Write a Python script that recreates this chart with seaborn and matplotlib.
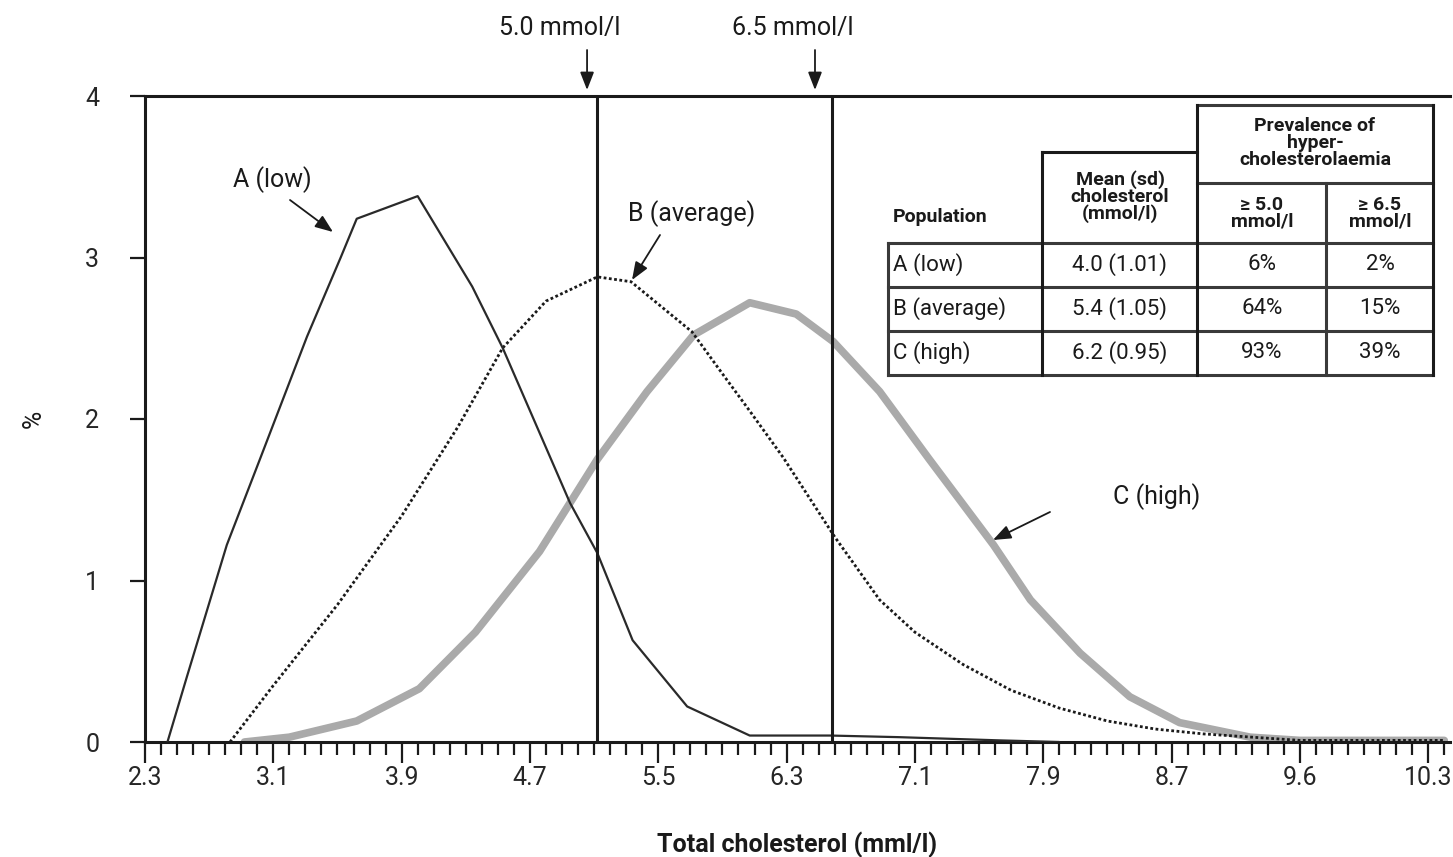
import matplotlib
matplotlib.use("Agg")
import matplotlib.pyplot as plt
import seaborn as sns
import numpy as np
import pandas as pd

# ---------------- data ----------------
a_x = [2.44, 2.56, 2.81, 3.02, 3.31, 3.52, 3.62, 4.00, 4.34, 4.53, 4.95, 5.12, 5.34, 5.68, 6.07, 6.57, 7.00, 7.63, 8.00]
a_y = [0.00, 0.40, 1.22, 1.76, 2.51, 3.00, 3.24, 3.38, 2.82, 2.44, 1.48, 1.17, 0.63, 0.22, 0.04, 0.04, 0.03, 0.01, 0.00]

b_x = [2.83, 3.10, 3.50, 3.90, 4.25, 4.53, 4.80, 5.12, 5.33, 5.71, 5.90, 6.07, 6.28, 6.60, 6.88, 7.10, 7.40, 7.70, 8.00, 8.30, 8.60, 8.90, 9.20, 9.50, 10.40]
b_y = [0.00, 0.35, 0.85, 1.40, 1.95, 2.44, 2.73, 2.88, 2.85, 2.54, 2.28, 2.05, 1.76, 1.27, 0.88, 0.68, 0.48, 0.32, 0.21, 0.13, 0.08, 0.05, 0.03, 0.01, 0.01]

c_x = [2.92, 3.20, 3.62, 4.01, 4.36, 4.76, 5.12, 5.43, 5.72, 6.07, 6.36, 6.59, 6.88, 7.19, 7.59, 7.82, 8.13, 8.44, 8.75, 9.19, 9.50, 10.40]
c_y = [0.00, 0.03, 0.13, 0.33, 0.68, 1.18, 1.75, 2.17, 2.52, 2.72, 2.65, 2.48, 2.17, 1.75, 1.22, 0.88, 0.55, 0.28, 0.12, 0.03, 0.01, 0.01]

x_tick_pos = [2.3, 3.1, 3.9, 4.7, 5.5, 6.3, 7.1, 7.9, 8.7, 9.5, 10.3]
x_tick_labels = ["2.3", "3.1", "3.9", "4.7", "5.5", "6.3", "7.1", "7.9", "8.7", "9.6", "10.3"]
y_ticks = [0, 1, 2, 3, 4]
ref_lines = [5.12, 6.58]
ref_labels = ["5.0 mmol/l", "6.5 mmol/l"]
ref_arrow_x = [5.056, 6.477]

table_header = ["Population", "Mean (sd)\ncholesterol\n(mmol/l)", "Prevalence of\nhyper-\ncholesterolaemia",
                "\u2265 5.0\nmmol/l", "\u2265 6.5\nmmol/l"]
table_pop = ["A (low)", "B (average)", "C (high)"]
table_mean = ["4.0 (1.01)", "5.4 (1.05)", "6.2 (0.95)"]
table_p50 = ["6%", "64%", "93%"]
table_p65 = ["2%", "15%", "39%"]

# ---------------- style ----------------
sns.set_theme(style="white")
plt.rcParams["font.family"] = ["Roboto", "DejaVu Sans"]

W, H = 1453, 857
fig = plt.figure(figsize=(W / 100, H / 100), dpi=100)
L, R, T, B = 145, 1450, 96, 742
ax = fig.add_axes([L / W, (H - B) / H, (R - L) / W, (B - T) / H])

df_a = pd.DataFrame({"x": a_x, "y": a_y})
df_b = pd.DataFrame({"x": b_x, "y": b_y})
df_c = pd.DataFrame({"x": c_x, "y": c_y})

sns.lineplot(data=df_c, x="x", y="y", ax=ax, color="#aaaaaa", lw=5.5, sort=False, zorder=2)
sns.lineplot(data=df_b, x="x", y="y", ax=ax, color="#1a1a1a", lw=2.0, ls=(0, (1.0, 0.9)), sort=False, zorder=3)
sns.lineplot(data=df_a, x="x", y="y", ax=ax, color="#2a2a2a", lw=1.6, sort=False, zorder=3)

for xv in ref_lines:
    ax.axvline(xv, color="#1a1a1a", lw=2.2, zorder=4)

ax.set_xlim(2.3, 2.3 + (R - L) / 160.4)
ax.set_ylim(0, 4)

# spines
for s in ["left", "bottom", "top"]:
    ax.spines[s].set_visible(True)
    ax.spines[s].set_color("#1a1a1a")
    ax.spines[s].set_linewidth(2.2)
ax.spines["right"].set_visible(False)

ax.set_xticks(x_tick_pos)
ax.set_xticklabels(x_tick_labels)
ax.set_xticks(np.round(np.arange(2.3, 10.45, 0.1), 2), minor=True)
ax.set_yticks(y_ticks)
ax.set_yticklabels([str(v) for v in y_ticks])
ax.tick_params(axis="x", which="major", direction="out", length=15, width=1.6, color="#1a1a1a",
               labelsize=18, pad=2, bottom=True)
ax.tick_params(axis="x", which="minor", direction="out", length=9, width=1.6, color="#1a1a1a", bottom=True)
ax.tick_params(axis="y", which="major", direction="out", length=11, width=1.6, color="#1a1a1a",
               labelsize=18, pad=22, left=True)
ax.set_xlabel("Total cholesterol (mml/l)", fontsize=18, fontweight="bold", labelpad=30, color="#1a1a1a")
ax.set_ylabel("%", fontsize=18, labelpad=28, color="#1a1a1a")

# px -> data helpers (layout only)
def dx(px):
    return 2.3 + (px - L) / 160.4

def dy(py):
    return (B - py) / ((B - T) / 4)

arrow_kw = dict(arrowstyle="-|>,head_length=0.9,head_width=0.35", color="#1a1a1a", lw=1.3, shrinkA=0, shrinkB=0)

# top reference annotations
for lab, xa, xt in zip(ref_labels, ref_arrow_x, [dx(560), dx(793)]):
    ax.text(xt, dy(28), lab, ha="center", va="center", fontsize=18, color="#1a1a1a", clip_on=False)
    ax.annotate("", xy=(xa, dy(90)), xytext=(xa, dy(50)), arrowprops=arrow_kw, annotation_clip=False)

# series labels
ax.text(dx(272), dy(180), "A (low)", ha="center", va="center", fontsize=18, color="#1a1a1a")
ax.annotate("", xy=(dx(333), dy(232)), xytext=(dx(290), dy(200)), arrowprops=arrow_kw)
ax.text(dx(692), dy(214), "B (average)", ha="center", va="center", fontsize=18, color="#1a1a1a")
ax.annotate("", xy=(dx(632), dy(280)), xytext=(dx(660), dy(235)), arrowprops=arrow_kw)
ax.text(dx(1157), dy(497), "C (high)", ha="center", va="center", fontsize=18, color="#1a1a1a")
ax.annotate("", xy=(dx(993), dy(540)), xytext=(dx(1050), dy(512)), arrowprops=arrow_kw)

# ---------------- table (drawn in axes fraction) ----------------
def axx(px):
    return (px - L) / (R - L)

def axy(py):
    return (B - py) / (B - T)

tr = ax.transAxes
cx = [888, 1042, 1197, 1326, 1433]
ry = [243, 287, 331, 375]

def hline(x0, x1, y, c="#333333", lw=2.2):
    ax.plot([axx(x0), axx(x1)], [axy(y), axy(y)], transform=tr, color=c, lw=lw, solid_capstyle="projecting", zorder=6)

def vline(x, y0, y1, c="#1a1a1a", lw=2.2):
    ax.plot([axx(x), axx(x)], [axy(y0), axy(y1)], transform=tr, color=c, lw=lw, solid_capstyle="projecting", zorder=6)

# white background for table
ax.add_patch(plt.Rectangle((axx(cx[0]), axy(ry[-1])), axx(cx[-1]) - axx(cx[0]), axy(ry[0]) - axy(ry[-1]),
                           transform=tr, facecolor="white", edgecolor="none", zorder=5))
ax.add_patch(plt.Rectangle((axx(cx[1]), axy(243)), axx(cx[-1]) - axx(cx[1]), axy(152) - axy(243),
                           transform=tr, facecolor="white", edgecolor="none", zorder=5))
ax.add_patch(plt.Rectangle((axx(cx[2]), axy(152)), axx(cx[-1]) - axx(cx[2]), axy(105) - axy(152),
                           transform=tr, facecolor="white", edgecolor="none", zorder=5))

for y in ry:
    hline(cx[0], cx[-1], y, c="#3a3a3a")
hline(cx[1], cx[2], 152, c="#1a1a1a")
hline(cx[2], cx[4], 105, c="#3a3a3a")
hline(cx[2], cx[4], 183, c="#3a3a3a")
vline(cx[0], ry[0], ry[-1], c="#3a3a3a")
vline(cx[1], 152, ry[-1])
vline(cx[2], 105, ry[-1])
vline(cx[3], 183, ry[-1], c="#3a3a3a")
vline(cx[4], 105, ry[-1])

hkw = dict(transform=tr, ha="center", va="center", fontsize=14, fontweight="bold", color="#1a1a1a",
           linespacing=0.9, zorder=7)
ax.text(axx(893), axy(217), table_header[0], **{**hkw, "ha": "left"})
ax.text(axx(1120), axy(197), table_header[1], **hkw)
ax.text(axx(1315), axy(143), table_header[2], **hkw)
ax.text(axx(1262), axy(213), table_header[3], **hkw)
ax.text(axx(1380), axy(213), table_header[4], **hkw)

ckw = dict(transform=tr, va="center", fontsize=16, color="#1a1a1a", zorder=7)
for i in range(3):
    ymid = axy((ry[i] + ry[i + 1]) / 2)
    ax.text(axx(893), ymid, table_pop[i], ha="left", **ckw)
    ax.text(axx(1120), ymid, table_mean[i], ha="center", **ckw)
    ax.text(axx(1262), ymid, table_p50[i], ha="center", **ckw)
    ax.text(axx(1380), ymid, table_p65[i], ha="center", **ckw)

fig.savefig("out.png", dpi=100)
